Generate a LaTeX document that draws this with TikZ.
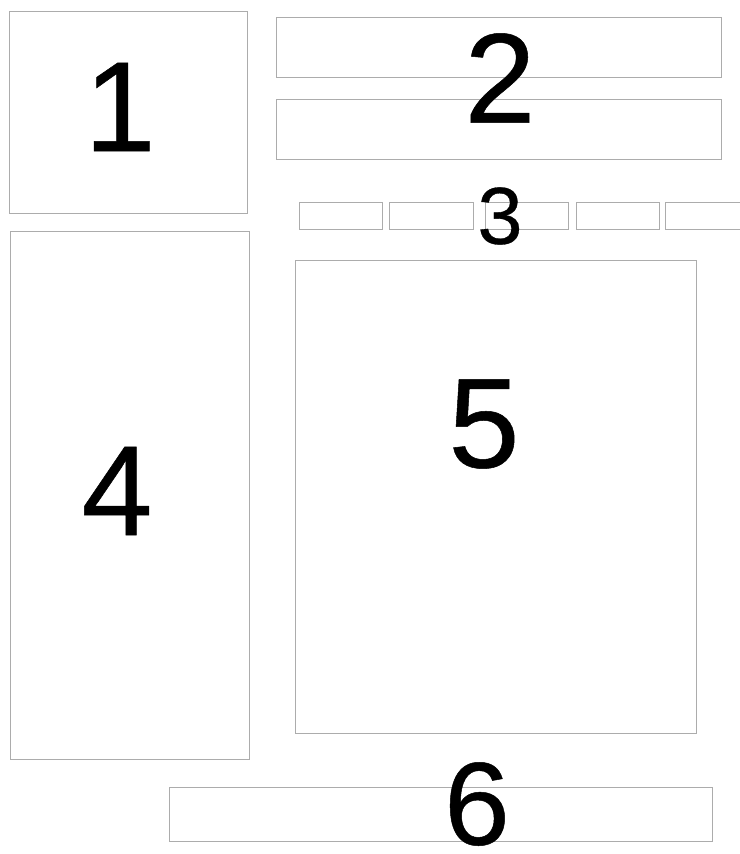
\documentclass[tikz,border=0pt]{standalone}
\usepackage{fontspec}
\setmainfont{Liberation Sans}
\newfontfamily\digitfont[FakeBold=0.4]{Liberation Sans}
\usetikzlibrary{positioning}

\begin{document}
\begin{tikzpicture}[x=1pt, y=-1pt,
  panel/.style={draw=gray!65, line width=0.9pt, inner sep=0pt, anchor=north west},
  digit/.style={font=\digitfont\fontsize{128}{128}\selectfont, inner sep=0pt},
  smalldigit/.style={font=\digitfont\fontsize{81}{81}\selectfont, inner sep=0pt},
]
\useasboundingbox[fill=white] (0,0) rectangle (739,854);
% top row
\node[panel, minimum width=238pt, minimum height=202pt] (p1) at (9,11) {};
\node[panel, minimum width=445pt, minimum height=60pt] (p2a) at (276,17) {};
\node[panel, minimum width=445pt, minimum height=60pt] (p2b) at (276,99) {};
% tab strip
\foreach \i/\x/\w in {1/299/83, 2/389/84, 3/485/83, 4/576/83, 5/665/84}
  \node[panel, minimum width=\w pt, minimum height=27pt] (tab\i) at (\x,202) {};
% side and main panels
\node[panel, minimum width=239pt, minimum height=528pt] (p4) at (10,231) {};
\node[panel, minimum width=401pt, minimum height=473pt] (p5) at (295,260) {};
% bottom bar
\node[panel, minimum width=543pt, minimum height=54pt] (p6) at (169,787) {};
% labels
\node[digit] (n1) at (120,107) {1};
\node[digit] (n2) at (500,78) {2};
\node[smalldigit] (n3) at (500,216) {3};
\node[digit] (n4) at (117,491) {4};
\node[digit] (n5) at (484,424) {5};
\node[digit, font=\digitfont\fontsize{118}{118}\selectfont] (n6) at (477,804) {6};
\end{tikzpicture}
\end{document}
